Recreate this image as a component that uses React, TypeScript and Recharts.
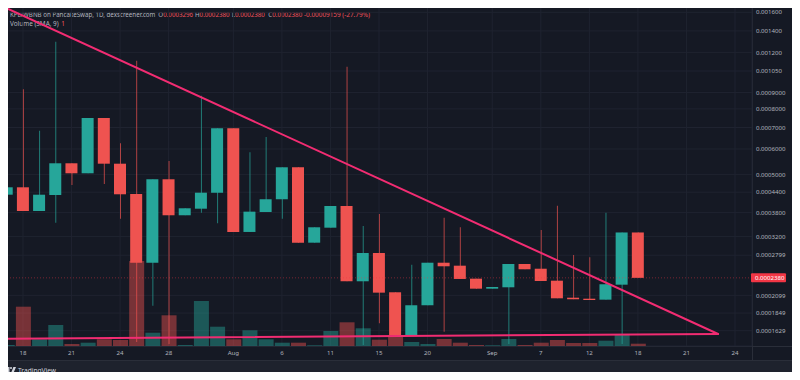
import React from 'react'
import {
  ComposedChart,
  Bar,
  XAxis,
  YAxis,
  CartesianGrid,
  ReferenceLine,
  Cell,
} from 'recharts'

// candle index (0 = the "18" tick), one per trading day shown
const days = [
  -1, 0, 1, 2, 3, 4, 5, 6, 7, 8, 9, 10, 11, 12, 13, 14, 15, 16, 17, 18, 19,
  20, 21, 22, 23, 24, 25, 26, 27, 28, 29, 30, 31, 32, 33, 34, 35, 36, 37, 38,
]
const opens = [
  0.0004322, 0.0004558, 0.0003845, 0.0004313, 0.0005415, 0.000504, 0.0007494,
  0.0005399, 0.0004344, 0.0002653, 0.0004828, 0.0003729, 0.0003909, 0.0004385,
  0.0006961, 0.0003308, 0.0003818, 0.0004183, 0.0005262, 0.0003063, 0.0003411,
  0.0003986, 0.0002322, 0.0002844, 0.0002146, 0.0001576, 0.0001955, 0.0002653,
  0.0002597, 0.0002366, 0.0002202, 0.0002224, 0.0002629, 0.0002541, 0.0002332,
  0.0002064, 0.0002049, 0.0002035, 0.0002266, 0.0003296,
]
const highs = [
  0.0004558, 0.0009208, 0.0006842, 0.0012957, 0.0005415, 0.0007494, 0.0007494,
  0.000625, 0.0011305, 0.0004828, 0.0005505, 0.0003921, 0.0008795, 0.0006961,
  0.0006961, 0.000586, 0.0006539, 0.0005262, 0.0005262, 0.0003421, 0.0003986,
  0.0010829, 0.0003453, 0.0003764, 0.0002146, 0.0002616, 0.0002653, 0.0003665,
  0.0003421, 0.0002366, 0.0002229, 0.0002629, 0.0002629, 0.0003355, 0.0003995,
  0.0002804, 0.0002758, 0.0003799, 0.0003296, 0.0003296,
]
const lows = [
  0.0004322, 0.0003845, 0.0003845, 0.0003536, 0.0004634, 0.000504, 0.0004667,
  0.0003639, 0.0001502, 0.0001949, 0.0001481, 0.0003729, 0.0003799, 0.0003521,
  0.0003308, 0.0003308, 0.0003818, 0.0003639, 0.0003063, 0.0003063, 0.0003411,
  0.0002322, 0.000147, 0.0001718, 0.0001576, 0.0001576, 0.0001955, 0.0001617,
  0.0002361, 0.0002202, 0.0002202, 0.000148, 0.0002531, 0.0002327, 0.0002055,
  0.0002041, 0.000203, 0.0002035, 0.000148, 0.000238,
]
const closes = [
  0.0004558, 0.0003845, 0.0004322, 0.0005415, 0.000504, 0.0007494, 0.0005399,
  0.0004335, 0.0002653, 0.0004828, 0.0003729, 0.0003921, 0.0004385, 0.0006961,
  0.0003308, 0.0003827, 0.0004183, 0.0005262, 0.0003063, 0.0003421, 0.0003986,
  0.0002322, 0.0002844, 0.000214, 0.0001576, 0.0001955, 0.0002653, 0.0002586,
  0.0002361, 0.0002202, 0.0002229, 0.0002629, 0.0002531, 0.0002327, 0.0002055,
  0.0002041, 0.000203, 0.0002273, 0.0003296, 0.000238,
]
const volumes = [
  1000, 39300, 6700, 21000, 2000, 3300, 6700, 6000, 85000, 13300, 30700, 1000,
  45000, 19300, 6700, 15700, 6700, 3300, 3300, 700, 15000, 23700, 17700, 6300,
  10700, 4000, 2000, 7000, 3300, 1000, 700, 7000, 1000, 3300, 6000, 3000, 3000,
  5300, 12000, 2300,
]

const xTicks = [0, 3, 6, 9, 13, 16, 19, 22, 25, 29, 32, 35, 38, 41, 44]
const xTickLabels = [
  '18', '21', '24', '28', 'Aug', '6', '11', '15', '20', 'Sep', '7', '12', '18', '21', '24',
]
const yTickLabels = [
  '0.001600', '0.001400', '0.001200', '0.001050', '0.0009000', '0.0008000',
  '0.0007000', '0.0006000', '0.0005000', '0.0004400', '0.0003800', '0.0003200',
  '0.0002799', '0.0002099', '0.0001849', '0.0001629',
]
const yTicks = yTickLabels.map(Number)

// legend line: OHLC of the last bar
const ohlcKeys = ['O', 'H', 'L', 'C']
const ohlcValues = ['0.0003296', '0.0002380', '0.0002380', '0.0002380']
const changeText = '-0.00009159 (-27.79%)'

const lastPrice = 0.000238
// drawn triangle: falling line and flat support line
const trendLines = [
  [{ x: -1.11, y: 0.0016561 }, { x: 42.954, y: 0.0001591 }],
  [{ x: -1.11, y: 0.0001538 }, { x: 42.954, y: 0.0001591 }],
]

const UP = '#26a69a'
const DOWN = '#ef5350'
const FONT = '"Noto Sans", sans-serif'
const X_DOMAIN: [number, number] = [-1.1123, 45.05]
const Y_DOMAIN: [number, number] = [0.00014594, 0.0016861]

const rows = days.map((d, i) => {
  const o = opens[i]
  const c = closes[i]
  return {
    day: d,
    body: [Math.min(o, c), Math.max(o, c)],
    wick: [lows[i], highs[i]],
    vol: volumes[i],
    up: c >= o,
  }
})

const PriceTag = (props: any) => {
  const vb = props.viewBox || {}
  const x = (vb.x || 0) + (vb.width || 0) - 1
  const y = vb.y || 0
  return (
    <g>
      <rect x={x} y={y - 4.5} width={35} height={9} fill="#f23645" rx={1} />
      <text x={x + 4} y={y} dy="0.355em" fontSize={6.1} fontFamily={FONT} fill="#ffffff">
        0.0002380
      </text>
    </g>
  )
}

const GRAY = '#b2b5be'
const RED = '#f0525a'
const ohlcX = [158.3, 195, 231.7, 268.3]

const Legend = () => (
  <svg width={400} height={30} style={{ position: 'absolute', left: 0, top: 0 }}>
    <g fontFamily={FONT}>
      <text x={10} y={17} fill={GRAY} fontSize={6.2}>
        KPL/WBNB on PancakeSwap, 1D, dexscreener.com
      </text>
      {ohlcKeys.map((k, i) => (
        <text key={k} x={ohlcX[i]} y={17} fontSize={6.2}>
          <tspan fill={GRAY}>{k}</tspan>
          <tspan fill={RED}>{ohlcValues[i]}</tspan>
        </text>
      ))}
      <text x={304} y={17} fill={RED} fontSize={6.4}>
        {changeText}
      </text>
      <text x={10} y={26} fill={GRAY} fontSize={6.4}>
        Volume (SMA, 9)
      </text>
      <text x={61.3} y={26} fill={RED} fontSize={6.4}>
        1
      </text>
    </g>
  </svg>
)

export default function App() {
  return (
    <div
      style={{
        position: 'relative',
        width: 800,
        height: 380,
        margin: -8,
        overflow: 'hidden',
        background: '#1e222d',
        fontFamily: FONT,
      }}
    >
      <div
        style={{
          position: 'absolute',
          left: 5,
          top: 5,
          width: 790,
          height: 356,
          boxSizing: 'border-box',
          border: '1px solid #2a2e39',
          background: '#151924',
        }}
      />
      <div style={{ position: 'absolute', left: 5, top: 346, width: 790, height: 1, background: '#2a2e39' }} />
      <div style={{ position: 'absolute', left: 752, top: 5, width: 1, height: 356, background: '#2a2e39' }} />

      <Legend />

      <div style={{ position: 'absolute', left: 5, top: 5 }}>
        <ComposedChart
          width={789}
          height={355}
          data={rows}
          margin={{ top: 0, right: 0, bottom: 0, left: 0 }}
        >
          <CartesianGrid stroke="#1f2330" />
          <XAxis
            dataKey="day"
            type="number"
            domain={X_DOMAIN}
            allowDataOverflow
            ticks={xTicks}
            interval={0}
            tickFormatter={(v: number) => xTickLabels[xTicks.indexOf(v)] ?? ''}
            height={14}
            axisLine={false}
            tickLine={false}
            tickSize={5}
            tickMargin={0}
            tick={{ fill: GRAY, fontSize: 6.1, fontFamily: FONT }}
          />
          <XAxis xAxisId="wick" dataKey="day" type="number" domain={X_DOMAIN} allowDataOverflow hide />
          <XAxis xAxisId="vol" dataKey="day" type="number" domain={X_DOMAIN} allowDataOverflow hide />
          <YAxis
            orientation="right"
            type="number"
            scale="log"
            domain={Y_DOMAIN}
            allowDataOverflow
            ticks={yTicks}
            interval={0}
            tickFormatter={(v: number) => yTickLabels[yTicks.indexOf(v)] ?? ''}
            width={42}
            axisLine={false}
            tickLine={false}
            tickSize={4}
            tickMargin={0}
            tick={{ fill: GRAY, fontSize: 6.1, fontFamily: FONT, textAnchor: 'start' }}
          />
          <YAxis yAxisId="vol" hide domain={[0, 341000]} />

          <Bar xAxisId="vol" yAxisId="vol" dataKey="vol" barSize={15} isAnimationActive={false}>
            {rows.map((r, i) => (
              <Cell key={i} fill={r.up ? 'rgba(38,166,154,0.45)' : 'rgba(239,83,80,0.45)'} />
            ))}
          </Bar>

          <ReferenceLine
            y={lastPrice}
            stroke="rgba(242,54,69,0.45)"
            strokeDasharray="1 2"
            label={<PriceTag />}
          />

          <Bar xAxisId="wick" dataKey="wick" barSize={1} isAnimationActive={false}>
            {rows.map((r, i) => (
              <Cell key={i} fill={r.up ? UP : DOWN} fillOpacity={0.7} />
            ))}
          </Bar>
          <Bar dataKey="body" barSize={12} isAnimationActive={false}>
            {rows.map((r, i) => (
              <Cell key={i} fill={r.up ? UP : DOWN} />
            ))}
          </Bar>

          {trendLines.map((seg, i) => (
            <ReferenceLine
              key={i}
              segment={seg}
              stroke="#f22c72"
              strokeWidth={2}
              strokeLinecap="round"
              ifOverflow="visible"
            />
          ))}
        </ComposedChart>
      </div>

      <div
        style={{
          position: 'absolute',
          left: 5,
          top: 366,
          display: 'flex',
          alignItems: 'center',
          gap: 2,
          color: '#d1d4dc',
          fontSize: 6.6,
        }}
      >
        <svg width={11} height={7} viewBox="0 0 11 7">
          <path d="M0 0h4.5v6.5H2.6V1.8H0z" fill="#d1d4dc" />
          <circle cx={6} cy={1} r={1} fill="#d1d4dc" />
          <path d="M8.4 0H11L8.3 6.5H5.8z" fill="#d1d4dc" />
        </svg>
        <span>TradingView</span>
      </div>
    </div>
  )
}
